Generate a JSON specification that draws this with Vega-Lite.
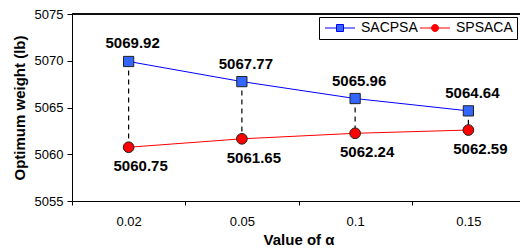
{
  "$schema": "https://vega.github.io/schema/vega-lite/v6.json",
  "width": 448,
  "height": 187,
  "autosize": {"type": "none"},
  "padding": {"left": 72, "top": 14, "right": 0, "bottom": 49},
  "background": "white",
  "config": {
    "view": {"stroke": null},
    "font": "Liberation Sans",
    "axis": {
      "domainColor": "black", "tickColor": "black", "labelColor": "black", "titleColor": "black",
      "labelFont": "Liberation Sans", "titleFont": "Liberation Sans",
      "labelFontSize": 13, "titleFontSize": 15, "titleFontWeight": "bold",
      "grid": false, "domainWidth": 1, "tickWidth": 1
    },
    "axisX": {"tickSize": 4, "labelPadding": 10, "titlePadding": 4, "labelAngle": 0, "tickBand": "extent"},
    "axisY": {"tickSize": 5, "labelPadding": 4, "titlePadding": 7}
  },
  "data": {
    "values": [
      {"alpha": "0.02", "SACPSA": 5069.92, "SPSACA": 5060.75},
      {"alpha": "0.05", "SACPSA": 5067.77, "SPSACA": 5061.65},
      {"alpha": "0.1", "SACPSA": 5065.96, "SPSACA": 5062.24},
      {"alpha": "0.15", "SACPSA": 5064.64, "SPSACA": 5062.59}
    ]
  },
  "encoding": {
    "x": {"field": "alpha", "type": "ordinal", "sort": null, "title": "Value of α",
          "scale": {"range": [0, 453], "paddingInner": 0, "paddingOuter": 0}}
  },
  "layer": [
    {
      "mark": {"type": "rule", "color": "black", "strokeWidth": 1},
      "encoding": {
        "x": {"value": 0},
        "x2": {"value": 448},
        "y": {"datum": 5075, "type": "quantitative", "title": "Optimum weight (lb)",
              "scale": {"domain": [5055, 5075], "nice": false, "zero": false},
              "axis": {"values": [5055, 5060, 5065, 5070, 5075], "format": "d"}}
      }
    },
    {
      "mark": {"type": "rule", "color": "black", "strokeWidth": 1.2, "strokeDash": [5, 4]},
      "encoding": {
        "y": {"field": "SACPSA", "type": "quantitative", "title": "Optimum weight (lb)"},
        "y2": {"field": "SPSACA"}
      }
    },
    {
      "mark": {"type": "line", "strokeWidth": 1, "color": "#0000FF"},
      "encoding": {"y": {"field": "SACPSA", "type": "quantitative", "title": "Optimum weight (lb)"}}
    },
    {
      "mark": {"type": "line", "strokeWidth": 1, "color": "#FF0000"},
      "encoding": {"y": {"field": "SPSACA", "type": "quantitative", "title": "Optimum weight (lb)"}}
    },
    {
      "mark": {"type": "point", "shape": "square", "filled": true, "fill": "#3366FF", "opacity": 1, "stroke": "#222222", "strokeWidth": 1, "size": 105},
      "encoding": {"y": {"field": "SACPSA", "type": "quantitative", "title": "Optimum weight (lb)"}}
    },
    {
      "mark": {"type": "point", "shape": "circle", "filled": true, "fill": "#FF0000", "opacity": 1, "stroke": "#222222", "strokeWidth": 1, "size": 115},
      "encoding": {"y": {"field": "SPSACA", "type": "quantitative", "title": "Optimum weight (lb)"}}
    },
    {
      "transform": [{"fold": ["SACPSA", "SPSACA"], "as": ["series", "value"]}],
      "mark": {"type": "point", "filled": true, "opacity": 0, "size": 100, "strokeWidth": 1},
      "encoding": {
        "y": {"field": "value", "type": "quantitative", "title": "Optimum weight (lb)"},
        "shape": {"field": "series", "type": "nominal",
                  "scale": {"domain": ["SACPSA", "SPSACA"], "range": ["M-1,0H1.3M2.7,0H5M1.3,-0.7H2.7V0.7H1.3Z", "M-1,0H1.3M2.7,0H5M2.7,0A0.7,0.7 0 1,1 1.3,0A0.7,0.7 0 1,1 2.7,0Z"]},
                  "legend": {
                    "orient": "none", "legendX": 247, "legendY": 3,
                    "direction": "horizontal", "columns": 2, "title": null,
                    "strokeColor": "black", "fillColor": "white", "padding": 4,
                    "labelFont": "Liberation Sans", "labelFontSize": 14, "labelColor": "black",
                    "labelOffset": 24, "columnPadding": 0, "symbolSize": 100, "symbolStrokeWidth": 1,
                    "symbolOpacity": 1
                  }},
        "fill": {"field": "series", "type": "nominal",
                 "scale": {"domain": ["SACPSA", "SPSACA"], "range": ["#3366FF", "#FF0000"]}},
        "stroke": {"field": "series", "type": "nominal",
                   "scale": {"domain": ["SACPSA", "SPSACA"], "range": ["#0000FF", "#FF0000"]}}
      }
    },
    {
      "mark": {"type": "text", "font": "Liberation Sans", "fontWeight": "bold", "fontSize": 15,
               "dx": 4, "dy": -13, "baseline": "alphabetic", "color": "black"},
      "encoding": {
        "y": {"field": "SACPSA", "type": "quantitative", "title": "Optimum weight (lb)"},
        "text": {"field": "SACPSA", "type": "quantitative", "format": ".2f"}
      }
    },
    {
      "mark": {"type": "text", "font": "Liberation Sans", "fontWeight": "bold", "fontSize": 15,
               "dx": 12, "dy": 12, "baseline": "top", "color": "black"},
      "encoding": {
        "y": {"field": "SPSACA", "type": "quantitative", "title": "Optimum weight (lb)"},
        "text": {"field": "SPSACA", "type": "quantitative", "format": ".2f"}
      }
    }
  ]
}
